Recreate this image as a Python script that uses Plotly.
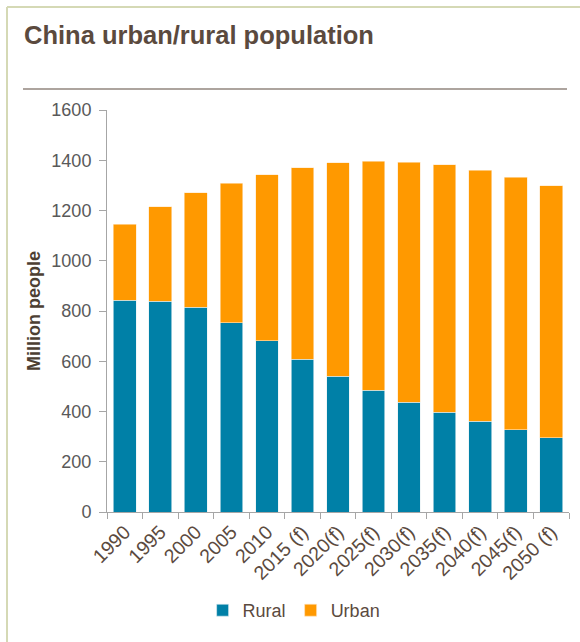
import plotly.graph_objects as go

# Years and projections (f = forecast)
years = ["1990", "1995", "2000", "2005", "2010", "2015 (f)", "2020(f)",
         "2025(f)", "2030(f)", "2035(f)", "2040(f)", "2045(f)", "2050 (f)"]
rural = [843, 839, 814, 753, 681, 608, 540, 485, 437, 397, 361, 328, 295]
urban = [303, 376, 456, 555, 661, 762, 850, 912, 955, 986, 1000, 1004, 1003]
y_ticks = [0, 200, 400, 600, 800, 1000, 1200, 1400, 1600]

RURAL_C = "#0080A7"
URBAN_C = "#FF9900"
TEXT_C = "#5B4A3E"
AXIS_C = "#A6A6A6"
FONT = "Liberation Sans, Arial, sans-serif"

fig = go.Figure()
fig.add_trace(go.Bar(x=years, y=rural, name="Rural", marker_color=RURAL_C,
                     marker_line=dict(width=0.6, color="#E6F0F4")))
fig.add_trace(go.Bar(x=years, y=urban, name="Urban", marker_color=URBAN_C,
                     marker_line=dict(width=0.6, color="#FFE8C8")))

fig.update_layout(
    width=580, height=642,
    barmode="stack", bargap=0.36,
    plot_bgcolor="white", paper_bgcolor="white",
    margin=dict(l=107, r=11, t=110, b=130),
    font=dict(family=FONT, color=TEXT_C),
    showlegend=True,
    legend=dict(orientation="h", x=0.405, xanchor="center", y=-0.245,
                yanchor="middle", font=dict(size=18, color=TEXT_C),
                itemwidth=30, traceorder="normal"),
    xaxis=dict(showline=True, linecolor=AXIS_C, linewidth=1,
               ticks="outside", ticklen=6, tickcolor=AXIS_C,
               tickson="boundaries", tickangle=-45,
               tickfont=dict(size=19.5, color=TEXT_C, family=FONT),
               showgrid=False, zeroline=False),
    yaxis=dict(range=[0, 1600], tickvals=y_ticks, showline=True,
               linecolor=AXIS_C, linewidth=1, ticks="outside", ticklen=7,
               tickcolor=AXIS_C, showgrid=False, zeroline=False,
               ticklabelstandoff=4,
               tickfont=dict(size=18, color="#595959", family=FONT),
               title=dict(text="<b>Million people</b>", standoff=6,
                          font=dict(size=18, color="#4D3F33", family=FONT))),
)

# Title
fig.add_annotation(text="<b>China urban/rural population</b>", xref="paper",
                   yref="paper", x=(22 - 107) / 462, y=(511.7 - 35) / 401.7,
                   xanchor="left", yanchor="middle", showarrow=False,
                   font=dict(size=25.5, color=TEXT_C, family=FONT))

# Frame lines and rule under the title (pixel positions converted to paper)
def px_x(px):
    return (px - 107) / 462

def px_y(py):
    return (511.7 - py) / 401.7

fig.add_shape(type="line", xref="paper", yref="paper",
              x0=px_x(23), x1=px_x(567), y0=px_y(89), y1=px_y(89),
              line=dict(color="#ADA49E", width=2))
fig.add_shape(type="line", xref="paper", yref="paper",
              x0=px_x(7), x1=px_x(580), y0=px_y(7), y1=px_y(7),
              line=dict(color="#D5D9B5", width=2))
fig.add_shape(type="line", xref="paper", yref="paper",
              x0=px_x(7), x1=px_x(7), y0=px_y(7), y1=px_y(642),
              line=dict(color="#D5D9B5", width=2))

fig.write_html("out.html")
